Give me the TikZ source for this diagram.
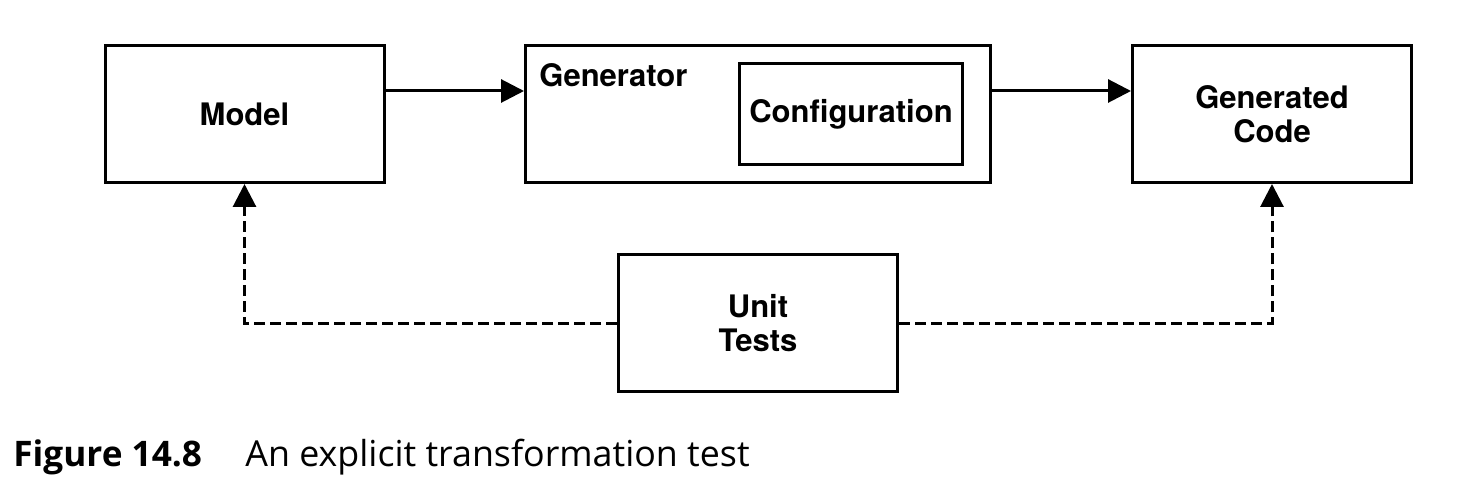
\documentclass[tikz,border=0pt]{standalone}
\usepackage{fontspec}
\setmainfont{TeX Gyre Heros}
\newfontfamily\capfont{Open Sans}
\usetikzlibrary{arrows.meta}
\tikzset{
  box/.style={draw, line width=1.5pt, rectangle, inner sep=0pt, align=center,
    font=\fontsize{15.5}{17}\selectfont\bfseries},
  bigbox/.style={box, minimum width=139.5pt, minimum height=68.5pt},
  flow/.style={line width=1.5pt, -{Triangle[length=11.5pt,width=11.5pt]}},
  testflow/.style={flow, dash pattern=on 5.5pt off 2.5pt},
  captext/.style={anchor=base west, inner sep=0pt, font=\fontsize{17.6}{20}\selectfont\capfont},
}
\begin{document}
\begin{tikzpicture}[x=0.5pt,y=-0.5pt]
\useasboundingbox (0,0) rectangle (1466,490);
\node[bigbox] (model) at (244.5,114) {\raisebox{-1pt}{Model}};
\node[box, minimum width=232.5pt, minimum height=68.5pt] (gen) at (758,114) {};
\node[box, minimum width=111.5pt, minimum height=50.5pt] (conf) at (851,114) {\raisebox{-1.5pt}{Configuration}};
\node[anchor=base west, inner sep=0pt, font=\fontsize{15.5}{17}\selectfont\bfseries] (genlabel) at (539,87) {Generator};
\node[bigbox] (code) at (1272,114) {\raisebox{-1pt}{Generated}\\\raisebox{-1pt}{Code}};
\node[bigbox] (ut) at (758,323.5) {Unit\\Tests};
\draw[flow] ([yshift=11.5pt]model.east) -- ([yshift=11.5pt]gen.west);
\draw[flow] ([yshift=11.5pt]gen.east) -- ([yshift=11.5pt]code.west);
\draw[testflow] (ut.west) -| (model.south);
\draw[testflow] (ut.east) -| (code.south);
\node[captext] (capnum) at (13,467) {\bfseries Figure 14.8};
\node[captext, font=\fontsize{17.9}{20}\selectfont\capfont] (captitle) at (245,467) {An explicit transformation test};
\end{tikzpicture}
\end{document}
